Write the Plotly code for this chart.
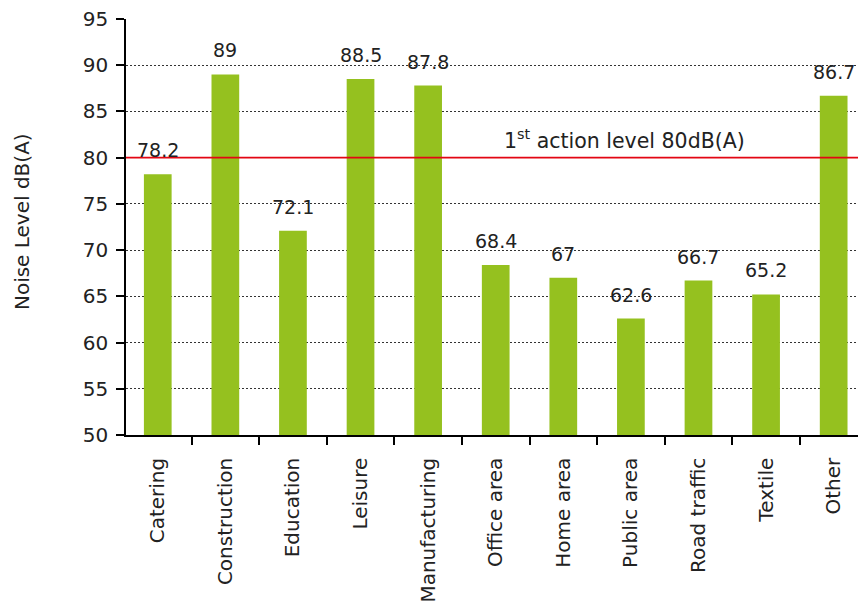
import plotly.graph_objects as go

categories = ["Catering", "Construction", "Education", "Leisure", "Manufacturing",
              "Office area", "Home area", "Public area", "Road traffic", "Textile", "Other"]
values = [78.2, 89, 72.1, 88.5, 87.8, 68.4, 67, 62.6, 66.7, 65.2, 86.7]
labels = ["78.2", "89", "72.1", "88.5", "87.8", "68.4", "67", "62.6", "66.7", "65.2", "86.7"]
action_level = 80
y_ticks = [50, 55, 60, 65, 70, 75, 80, 85, 90, 95]

FONT = "DejaVu Sans"
TXT = "#222222"
FS = 20

fig = go.Figure()
fig.add_trace(go.Bar(
    x=categories, y=[v - 50 for v in values], base=50,
    marker=dict(color="#95c11f", line=dict(width=0)),
    width=0.41,
    hoverinfo="skip",
))

# value labels above bars
for c, v, t in zip(categories, values, labels):
    fig.add_annotation(x=c, y=v, xref="x", yref="y", text=t, showarrow=False,
                       yanchor="bottom", yshift=11,
                       font=dict(family=FONT, size=19, color=TXT))

fig.add_shape(type="line", xref="paper", x0=0, x1=1, yref="y", y0=action_level, y1=action_level,
              line=dict(color="#e30613", width=1.6), layer="above")
fig.add_annotation(xref="paper", x=0.514, yref="y", y=action_level, xanchor="left", yanchor="bottom",
                   yshift=3,
                   text="1<sup>st</sup> action level 80dB(A)", showarrow=False,
                   font=dict(family=FONT, size=20.5, color=TXT))

# y axis title
fig.add_annotation(xref="paper", x=-0.142, yref="paper", y=0.512, xanchor="center", yanchor="middle",
                   text="Noise Level dB(A)", textangle=-90, showarrow=False,
                   font=dict(family=FONT, size=FS, color=TXT))

fig.update_layout(
    width=858, height=615,
    margin=dict(l=126, r=0, t=19, b=180, autoexpand=False),
    plot_bgcolor="white", paper_bgcolor="white",
    showlegend=False,
    font=dict(family=FONT, size=FS, color=TXT),
)
fig.update_xaxes(
    range=[-0.47, 10.36], automargin=False,
    tickangle=-90, tickson="boundaries", ticks="outside", ticklen=8, tickcolor="black", tickwidth=1.5,
    ticklabelstandoff=13, ticklabeloverflow="allow",
    showline=True, linecolor="black", linewidth=1.5,
    showgrid=False, tickfont=dict(family=FONT, size=FS, color=TXT),
)
fig.update_yaxes(
    range=[50, 95], tickvals=y_ticks, automargin=False,
    ticks="outside", ticklen=8, tickcolor="black", tickwidth=1.5,
    ticklabelstandoff=4, ticklabeloverflow="allow",
    showline=True, linecolor="black", linewidth=1.5,
    showgrid=True, gridcolor="#333333", griddash="2px,2px", gridwidth=1,
    zeroline=False,
    tickfont=dict(family=FONT, size=FS, color=TXT),
)

fig.write_html(
    "out.html",
    config={"displayModeBar": False},
    post_script="document.body.style.margin='0';document.body.style.overflow='hidden';",
)
